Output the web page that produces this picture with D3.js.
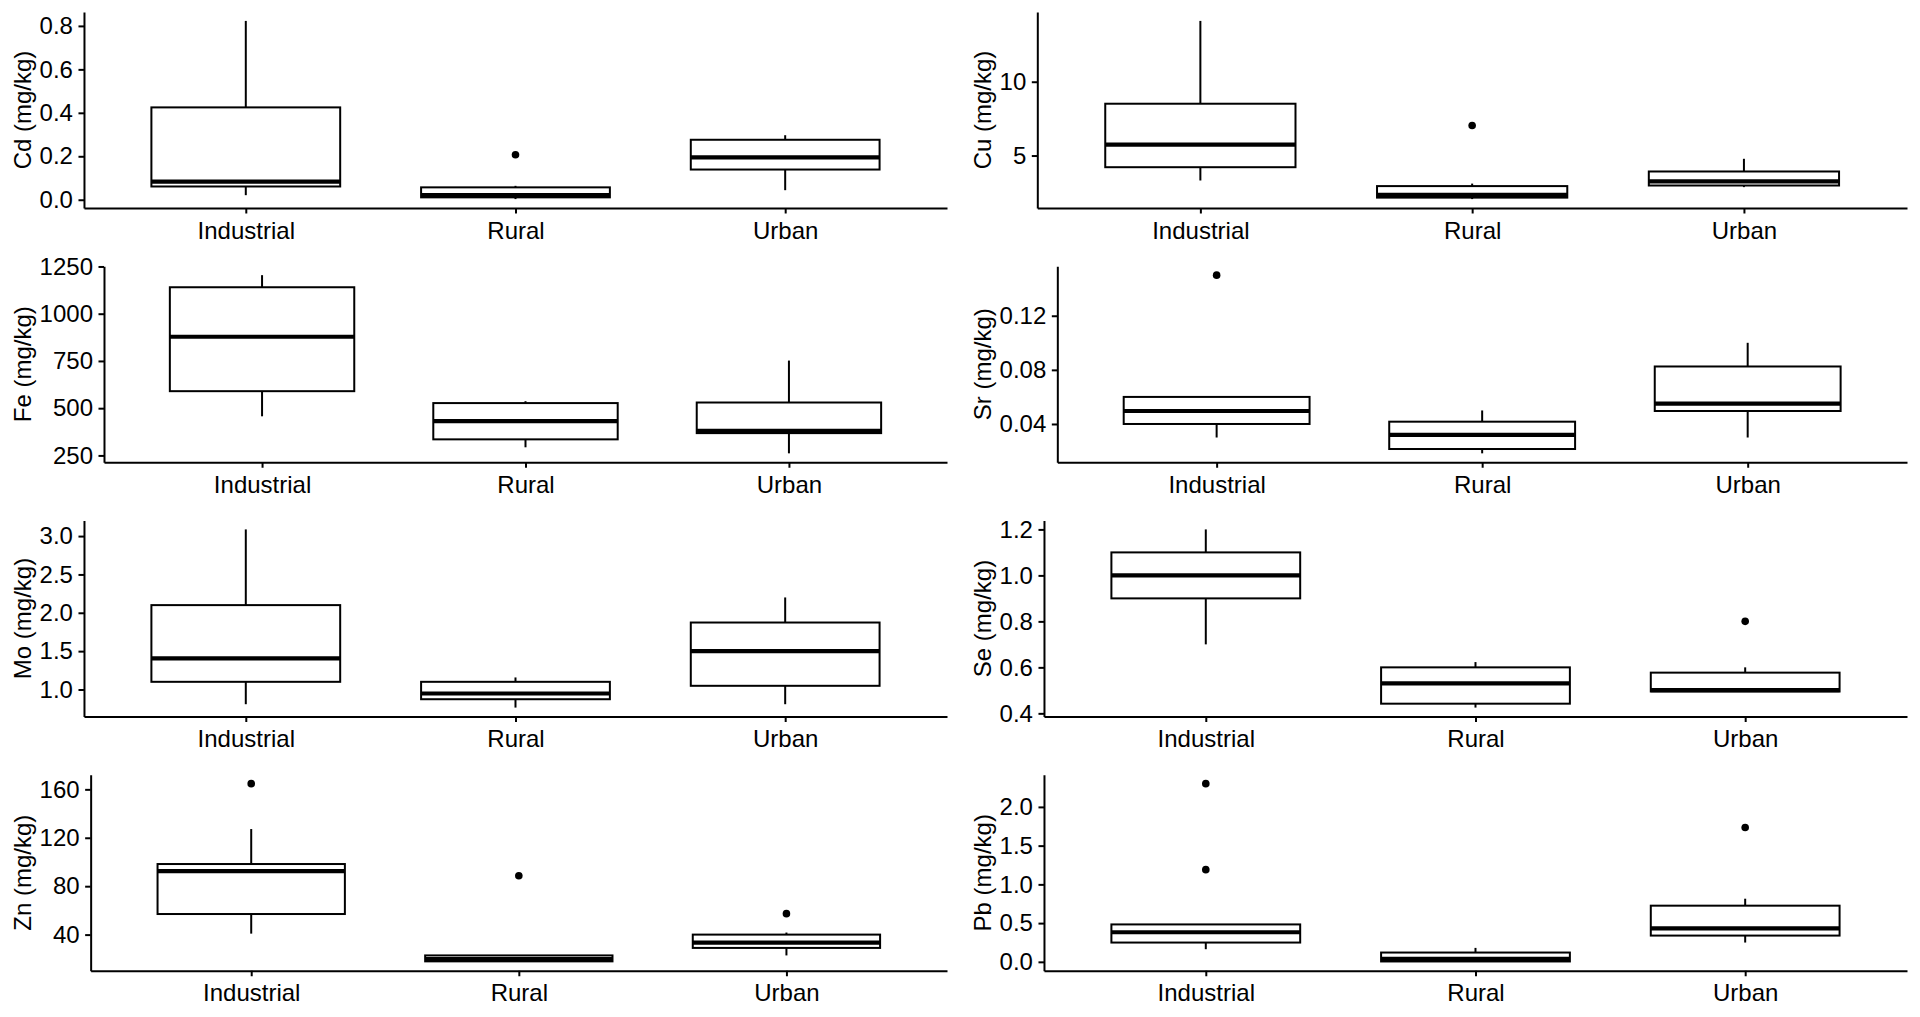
<!DOCTYPE html>
<html lang="en">
	<head>
		<meta charset="utf-8" />
		<title>Metal concentrations by site type</title>
		<style>
			body { margin: 0; background: #fff; }
			svg { display: block; }
			text { font-family: "Liberation Sans", Arial, sans-serif; }
		</style>
	</head>
	<body>
		<div id="chart"></div>

		<script src="https://d3js.org/d3.v7.min.js"></script>
		<script>
			// Site types (x categories)
			var groups = ["Industrial", "Rural", "Urban"];

			// Box stats per group: [lower whisker, q1, median, q3, upper whisker]
			var cdStats = [[0.021, 0.061, 0.083, 0.425, 0.823], [0.003, 0.011, 0.021, 0.057, 0.064], [0.044, 0.139, 0.195, 0.276, 0.297]];
			var cdOut = [[], [0.207], []];
			var cdTicks = [0, 0.2, 0.4, 0.6, 0.8];

			var cuStats = [[3.31, 4.21, 5.74, 8.51, 14.12], [2.05, 2.15, 2.33, 2.93, 3.1], [2.86, 2.97, 3.25, 3.92, 4.78]];
			var cuOut = [[], [7.03], []];
			var cuTicks = [5, 10];

			var feStats = [[457, 590, 878, 1140, 1204], [293, 335, 431, 527, 537], [261, 368, 380, 530, 752]];
			var feOut = [[], [], []];
			var feTicks = [250, 500, 750, 1000, 1250];

			var srStats = [[0.030, 0.040, 0.0496, 0.060, 0.060], [0.0183, 0.0215, 0.032, 0.0417, 0.050], [0.030, 0.0496, 0.0551, 0.0825, 0.100]];
			var srOut = [[0.150], [], []];
			var srTicks = [0.04, 0.08, 0.12];

			var moStats = [[0.808, 1.10, 1.406, 2.10, 3.087], [0.764, 0.873, 0.948, 1.10, 1.157], [0.808, 1.048, 1.50, 1.873, 2.20]];
			var moOut = [[], [], []];
			var moTicks = [1.0, 1.5, 2.0, 2.5, 3.0];

			var seStats = [[0.70, 0.90, 1.00, 1.10, 1.20], [0.425, 0.442, 0.530, 0.600, 0.623], [0.495, 0.495, 0.501, 0.577, 0.600]];
			var seOut = [[], [], [0.80]];
			var seTicks = [0.4, 0.6, 0.8, 1.0, 1.2];

			var znStats = [[40.8, 57.0, 92.5, 98.3, 127.2], [17.5, 17.9, 19.8, 22.8, 23.0], [22.8, 29.0, 33.4, 40.0, 41.7]];
			var znOut = [[164.7], [88.6], [57.3]];
			var znTicks = [40, 80, 120, 160];

			var pbStats = [[0.163, 0.249, 0.382, 0.483, 0.483], [0.0, 0.005, 0.039, 0.12, 0.18], [0.249, 0.339, 0.433, 0.725, 0.815]];
			var pbOut = [[1.19, 2.30], [], [1.734]];
			var pbTicks = [0.0, 0.5, 1.0, 1.5, 2.0];

			// Panels in reading order (2 columns x 4 rows)
			var panels = [
				{ label: "Cd (mg/kg)", stats: cdStats, out: cdOut, ticks: cdTicks, fmt: ".1f" },
				{ label: "Cu (mg/kg)", stats: cuStats, out: cuOut, ticks: cuTicks, fmt: "d" },
				{ label: "Fe (mg/kg)", stats: feStats, out: feOut, ticks: feTicks, fmt: "d" },
				{ label: "Sr (mg/kg)", stats: srStats, out: srOut, ticks: srTicks, fmt: ".2f" },
				{ label: "Mo (mg/kg)", stats: moStats, out: moOut, ticks: moTicks, fmt: ".1f" },
				{ label: "Se (mg/kg)", stats: seStats, out: seOut, ticks: seTicks, fmt: ".1f" },
				{ label: "Zn (mg/kg)", stats: znStats, out: znOut, ticks: znTicks, fmt: "d" },
				{ label: "Pb (mg/kg)", stats: pbStats, out: pbOut, ticks: pbTicks, fmt: ".1f" }
			];

			var W = 1920, H = 1017,
					colW = W / 2, rowH = H / 4,
					fontSize = 24, lw = 2;

			var svg = d3.select("#chart").append("svg")
					.attr("width", W)
					.attr("height", H);

			svg.append("rect").attr("width", W).attr("height", H).attr("fill", "#fff");

			// Measure widest tick label so the panel starts where ggplot would put it
			var probe = svg.append("text").attr("font-size", fontSize);
			function textWidth(s) {
				probe.text(s);
				return probe.node().getComputedTextLength();
			}

			panels.forEach(function(p, i) {
				var cx = (i % 2) * colW,
						cy = Math.floor(i / 2) * rowH,
						f = d3.format(p.fmt),
						labW = d3.max(p.ticks, function(t) { return textWidth(f(t)); });

				var left = cx + 39.6 + labW + 11,
						right = cx + colW - 13,
						top = cy + 12,
						bottom = cy + 208;

				// y range = data extent + 5% on each side
				var all = [];
				p.stats.forEach(function(s, j) { all = all.concat(s, p.out[j]); });
				var ext = d3.extent(all), pad = (ext[1] - ext[0]) * 0.05;

				var x = d3.scalePoint().domain(groups).range([left, right]).padding(0.6),
						y = d3.scaleLinear().domain([ext[0] - pad, ext[1] + pad]).range([bottom, top]),
						bw = x.step() * 0.7;

				var g = svg.append("g");

				var boxes = g.selectAll("g.box")
						.data(groups)
						.enter()
						.append("g")
						.attr("class", "box");

				// whiskers
				boxes.append("line")
						.attr("x1", function(d) { return x(d); })
						.attr("x2", function(d) { return x(d); })
						.attr("y1", function(d, j) { return y(p.stats[j][0]); })
						.attr("y2", function(d, j) { return y(p.stats[j][4]); })
						.attr("stroke", "#000")
						.attr("stroke-width", lw);

				boxes.append("rect")
						.attr("x", function(d) { return x(d) - bw / 2; })
						.attr("width", bw)
						.attr("y", function(d, j) { return y(p.stats[j][3]); })
						.attr("height", function(d, j) { return y(p.stats[j][1]) - y(p.stats[j][3]); })
						.attr("fill", "#fff")
						.attr("stroke", "#000")
						.attr("stroke-width", lw);

				// median
				boxes.append("line")
						.attr("x1", function(d) { return x(d) - bw / 2; })
						.attr("x2", function(d) { return x(d) + bw / 2; })
						.attr("y1", function(d, j) { return y(p.stats[j][2]); })
						.attr("y2", function(d, j) { return y(p.stats[j][2]); })
						.attr("stroke", "#000")
						.attr("stroke-width", lw * 2.1);

				boxes.selectAll("circle")
						.data(function(d, j) { return p.out[j].map(function(v) { return { g: d, v: v }; }); })
						.enter()
						.append("circle")
						.attr("cx", function(d) { return x(d.g); })
						.attr("cy", function(d) { return y(d.v); })
						.attr("r", 3.8)
						.attr("fill", "#000");

				// axes
				var xa = g.append("g")
						.attr("transform", "translate(0," + bottom + ")")
						.call(d3.axisBottom(x).tickSize(5.5).tickPadding(8).tickSizeOuter(0));

				var ya = g.append("g")
						.attr("transform", "translate(" + left + ",0)")
						.call(d3.axisLeft(y).tickValues(p.ticks).tickFormat(f).tickSize(5.5).tickPadding(5.5).tickSizeOuter(0));

				[xa, ya].forEach(function(a) {
					a.attr("font-size", fontSize).attr("font-family", null);
					a.selectAll("path, line").attr("stroke", "#000").attr("stroke-width", lw);
					a.selectAll("text").attr("fill", "#000");
				});

				g.append("text")
						.attr("transform", "translate(" + (cx + 23) + "," + ((top + bottom) / 2) + ") rotate(-90)")
						.attr("text-anchor", "middle")
						.attr("dy", "0.35em")
						.attr("font-size", fontSize)
						.attr("fill", "#000")
						.text(p.label);
			});

			probe.remove();
		</script>
	</body>
</html>
